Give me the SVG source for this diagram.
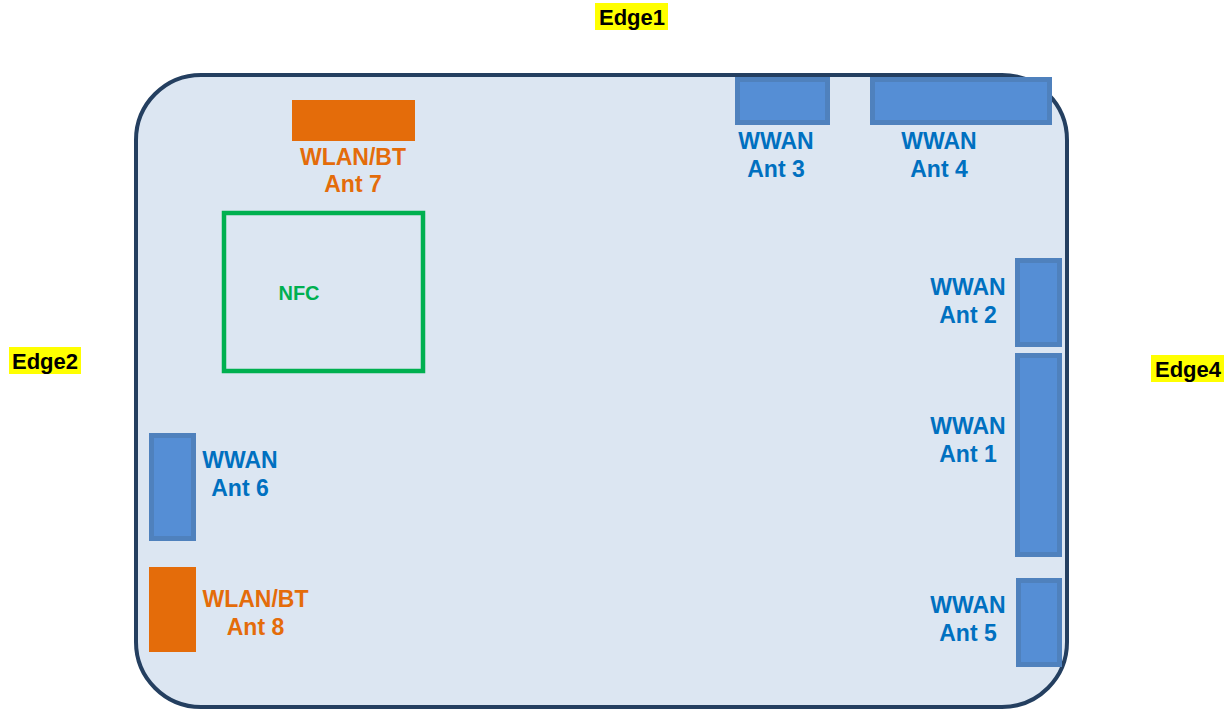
<svg xmlns="http://www.w3.org/2000/svg" width="1231" height="712" viewBox="0 0 1231 712">
<style>
text{font-family:"Liberation Sans",Arial,sans-serif;font-weight:bold;text-anchor:middle}
.wwan{fill:#558ed5;stroke:#4f81bd;stroke-width:5}
.wt{fill:#0070c0;font-size:23px}
.wlan{fill:#e46c0a}
.ot{fill:#e46c0a;font-size:23px}
.edge{fill:#ffff00}
.et{fill:#000;font-size:22px}
</style>
<rect width="1231" height="712" fill="#ffffff"/>
<g id="board"><rect x="136" y="75" width="931" height="632" rx="65" ry="65" fill="#dce6f2" stroke="#243f60" stroke-width="4"/></g>
<g id="edge1"><rect class="edge" x="595" y="3" width="73" height="27"/><text class="et" x="632" y="25">Edge1</text></g>
<g id="edge2"><rect class="edge" x="9" y="347" width="72" height="27"/><text class="et" x="45" y="369">Edge2</text></g>
<g id="edge4"><rect class="edge" x="1151" y="355" width="73" height="27"/><text class="et" x="1188" y="377">Edge4</text></g>
<g id="ant7"><rect class="wlan" x="292" y="100" width="123" height="41"/><text class="ot" x="353" y="165">WLAN/BT</text><text class="ot" x="353" y="192">Ant 7</text></g>
<g id="nfc"><rect x="224" y="213" width="199" height="158" fill="none" stroke="#00b050" stroke-width="4.5"/><text x="299" y="300" fill="#00b050" font-size="20">NFC</text></g>
<g id="ant3"><rect class="wwan" x="737.5" y="79.5" width="90" height="43"/><text class="wt" x="776" y="149">WWAN</text><text class="wt" x="776" y="177">Ant 3</text></g>
<g id="ant4"><rect class="wwan" x="872.5" y="79.5" width="177" height="43"/><text class="wt" x="939" y="149">WWAN</text><text class="wt" x="939" y="177">Ant 4</text></g>
<g id="ant2"><rect class="wwan" x="1017.5" y="260.5" width="42" height="84"/><text class="wt" x="968" y="295">WWAN</text><text class="wt" x="968" y="323">Ant 2</text></g>
<g id="ant1"><rect class="wwan" x="1017.5" y="355.5" width="42" height="199"/><text class="wt" x="968" y="434">WWAN</text><text class="wt" x="968" y="462">Ant 1</text></g>
<g id="ant5"><rect class="wwan" x="1018.5" y="580.5" width="41" height="84"/><text class="wt" x="968" y="613">WWAN</text><text class="wt" x="968" y="641">Ant 5</text></g>
<g id="ant6"><rect class="wwan" x="151.5" y="435.5" width="42" height="103"/><text class="wt" x="240" y="468">WWAN</text><text class="wt" x="240" y="496">Ant 6</text></g>
<g id="ant8"><rect class="wlan" x="149" y="567" width="47" height="85"/><text class="ot" x="255.5" y="607">WLAN/BT</text><text class="ot" x="255.5" y="635">Ant 8</text></g>
<g id="connectors"></g>
</svg>
